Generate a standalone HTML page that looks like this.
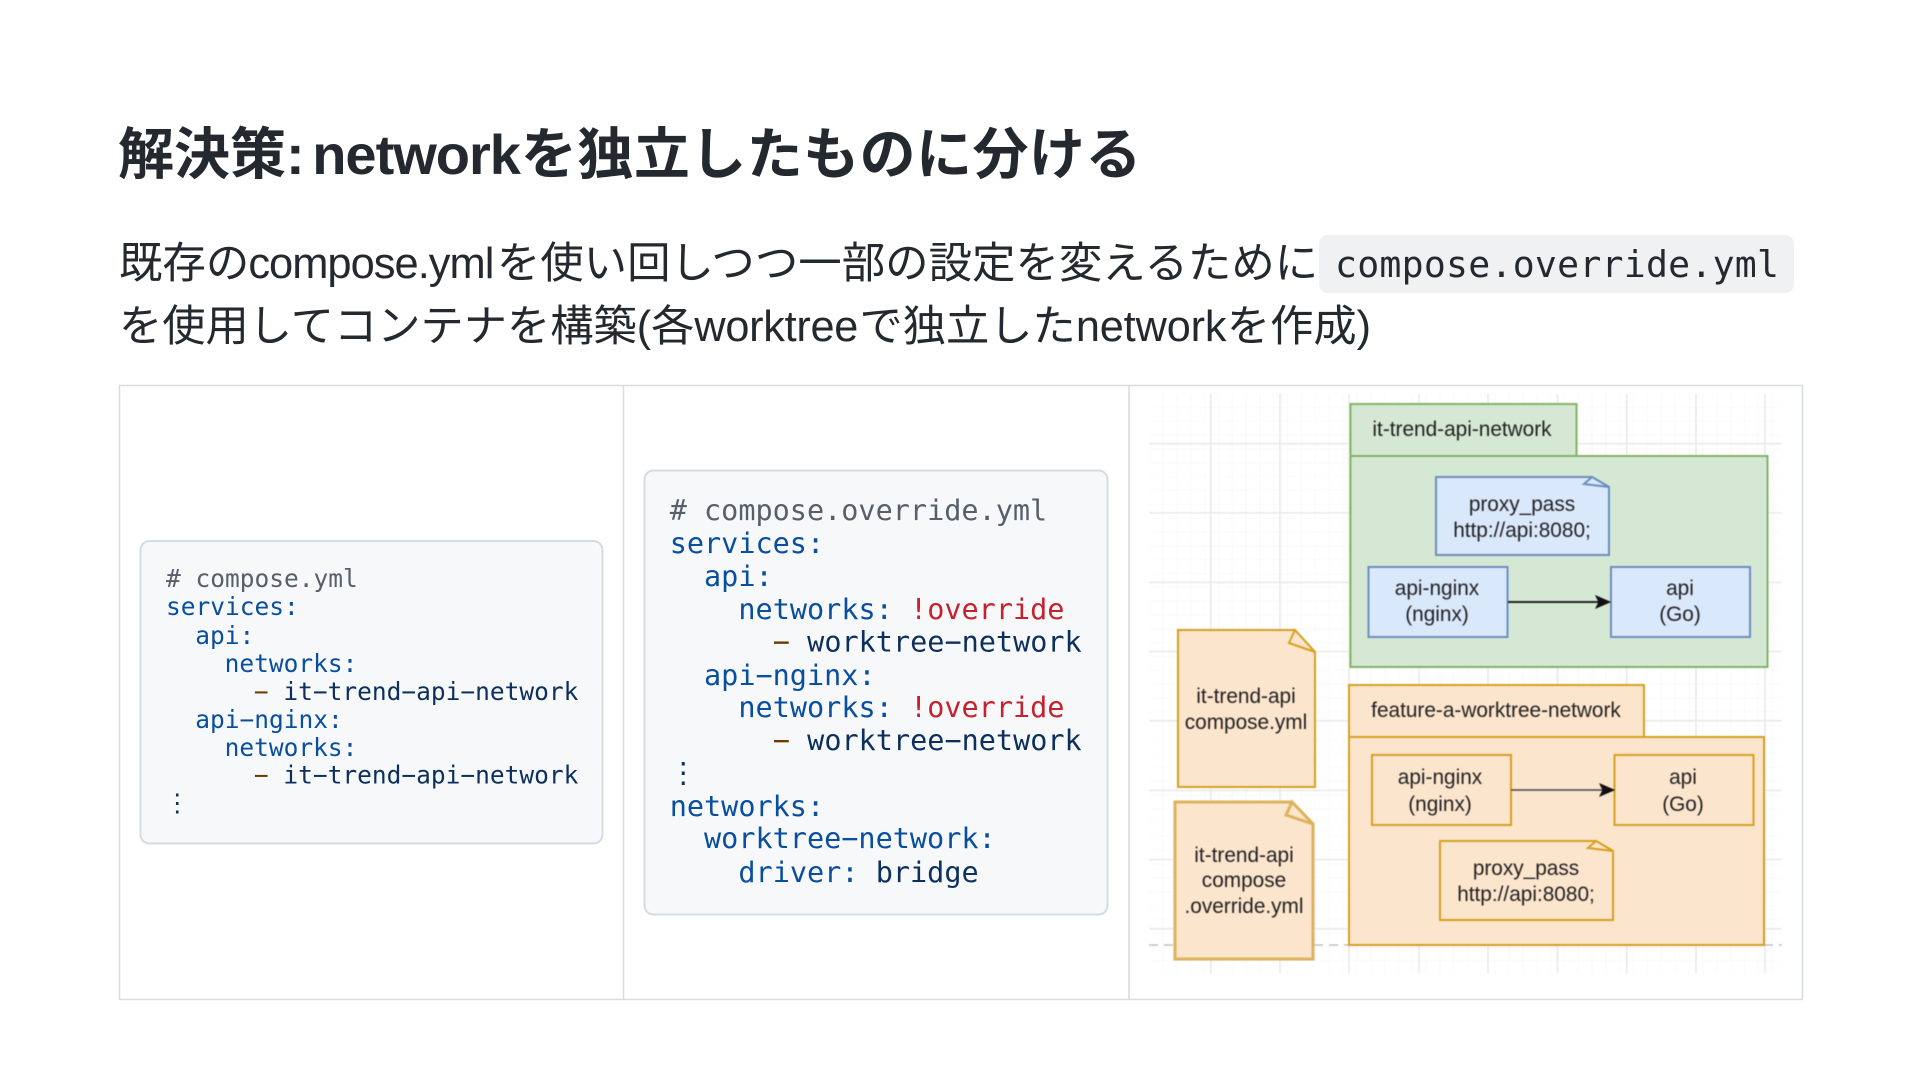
<!DOCTYPE html>
<html lang="ja"><head><meta charset="utf-8"><title>解決策</title>
<style>
html,body{margin:0;padding:0;background:#fff;width:1920px;height:1080px;overflow:hidden}
svg{display:block}
.sans{font-family:"Liberation Sans","Noto Sans CJK JP",sans-serif}
.mono{font-family:"DejaVu Sans Mono","Liberation Mono",monospace}
.k{fill:#0a4e9f}.c{fill:#57606a}.d{fill:#6b3a00}.v{fill:#0d2f5e}.r{fill:#c5222e}
.lbl{font-family:"Liberation Sans",sans-serif;font-size:20.8px;fill:#222;text-anchor:middle}
</style></head><body>
<svg width="1920" height="1080" viewBox="0 0 1920 1080" xmlns="http://www.w3.org/2000/svg">
<text class="sans" x="118" y="174" font-size="56" font-weight="700" fill="#24292f">解決策:<tspan dx="-7" letter-spacing="-1"> network</tspan><tspan dx="1" letter-spacing="0.45">を独立したものに分ける</tspan></text>
<text class="sans" x="119" y="278" font-size="43.45" fill="#24292f">既存の<tspan letter-spacing="-0.98" dx="-1">compose.yml</tspan><tspan dx="3.4">を使い回しつつ一部の設定を変えるために</tspan></text>
<rect x="1319" y="235" width="475" height="58" rx="9" fill="#eff1f3"/>
<text class="mono" x="1335" y="277" font-size="36.5" fill="#24292f" textLength="444">compose.override.yml</text>
<text class="sans" x="119" y="341" font-size="43.25" fill="#24292f">を使用してコンテナを構築(各<tspan letter-spacing="-0.27">worktree</tspan><tspan dx="1.5">で独立した</tspan><tspan letter-spacing="-0.12">network</tspan><tspan dx="0.5">を作成)</tspan></text>

<rect x="119.5" y="385.5" width="1683" height="614" fill="#fff" stroke="#d5dce2" stroke-width="1.5"/>
<line x1="623.5" y1="385" x2="623.5" y2="999" stroke="#d5dce2" stroke-width="1.5"/>
<line x1="1129" y1="385" x2="1129" y2="999" stroke="#d5dce2" stroke-width="1.5"/>

<rect x="140.5" y="541" width="462" height="302.5" rx="9" fill="#f6f8fa" stroke="#d5dce2" stroke-width="2"/>
<g class="mono" font-size="24.5">
<text x="166" y="587" class="c"># compose.yml</text>
<text x="166" y="615" class="k">services:</text>
<text x="195.3" y="644" class="k">api:</text>
<text x="224.6" y="672" class="k">networks:</text>
<text x="253.9" y="700"><tspan class="d">−</tspan><tspan class="v" dx="14.75">it−trend−api−network</tspan></text>
<text x="195.3" y="728" class="k">api−nginx:</text>
<text x="224.6" y="756" class="k">networks:</text>
<text x="253.9" y="783.5"><tspan class="d">−</tspan><tspan class="v" dx="14.75">it−trend−api−network</tspan></text>
<text x="165" y="811" class="v">⋮</text>
</g>

<rect x="644.5" y="470.5" width="463" height="444" rx="9" fill="#f6f8fa" stroke="#d5dce2" stroke-width="2"/>
<g class="mono" font-size="28.5">
<text x="669.7" y="520" class="c"># compose.override.yml</text>
<text x="669.7" y="553" class="k">services:</text>
<text x="704" y="586" class="k">api:</text>
<text x="738.4" y="619"><tspan class="k">networks:</tspan><tspan class="r" dx="17.2">!override</tspan></text>
<text x="772.8" y="651.5"><tspan class="d">−</tspan><tspan class="v" dx="17.2">worktree−network</tspan></text>
<text x="704" y="685" class="k">api−nginx:</text>
<text x="738.4" y="717"><tspan class="k">networks:</tspan><tspan class="r" dx="17.2">!override</tspan></text>
<text x="772.8" y="750"><tspan class="d">−</tspan><tspan class="v" dx="17.2">worktree−network</tspan></text>
<text x="669" y="782" class="v">⋮</text>
<text x="669.7" y="816" class="k">networks:</text>
<text x="704" y="848" class="k">worktree−network:</text>
<text x="738.4" y="882"><tspan class="k">driver:</tspan><tspan class="v" dx="17.2">bridge</tspan></text>
</g>

<defs>
<pattern id="gridMinor" x="1149.5" y="393.8" width="13.84" height="13.84" patternUnits="userSpaceOnUse">
<path d="M13.84 0V13.84H0" fill="none" stroke="#f3f3f3" stroke-width="1"/>
</pattern>
</defs>
<g style="filter:blur(0.45px)">
<rect x="1149.5" y="393.8" width="632" height="579" fill="url(#gridMinor)"/>
<g stroke="#e6e6e6" stroke-width="1.4">
<line x1="1210.8" y1="394" x2="1210.8" y2="973"/><line x1="1280" y1="394" x2="1280" y2="973"/>
<line x1="1349" y1="394" x2="1349" y2="973"/><line x1="1419" y1="394" x2="1419" y2="973"/>
<line x1="1488" y1="394" x2="1488" y2="973"/><line x1="1557.5" y1="394" x2="1557.5" y2="973"/>
<line x1="1626.7" y1="394" x2="1626.7" y2="973"/><line x1="1696" y1="394" x2="1696" y2="973"/>
<line x1="1765" y1="394" x2="1765" y2="973"/>
<line x1="1149" y1="443.7" x2="1782" y2="443.7"/><line x1="1149" y1="512.9" x2="1782" y2="512.9"/>
<line x1="1149" y1="582.4" x2="1782" y2="582.4"/><line x1="1149" y1="651.6" x2="1782" y2="651.6"/>
<line x1="1149" y1="720.8" x2="1782" y2="720.8"/><line x1="1149" y1="790.4" x2="1782" y2="790.4"/>
<line x1="1149" y1="859.6" x2="1782" y2="859.6"/><line x1="1149" y1="928.8" x2="1782" y2="928.8"/>
</g>
<line x1="1149" y1="945" x2="1782" y2="945" stroke="#b5b5b5" stroke-width="1.2" stroke-dasharray="9 6"/>

<g fill="#d5e8d4" stroke="#82b366" stroke-width="2">
<rect x="1350.5" y="404" width="226" height="52"/>
<rect x="1350.5" y="456" width="417" height="211"/>
</g>
<g fill="#dae8fc" stroke="#6c8ebf" stroke-width="2">
<path d="M1436 477H1592L1609 487V555H1436Z"/>
<path d="M1592 477L1609 487L1584 484Z" fill="#dae8fc"/>
<rect x="1368.5" y="567" width="139" height="70"/>
<rect x="1611" y="567" width="139" height="70"/>
</g>
<line x1="1508" y1="602" x2="1600" y2="602" stroke="#222" stroke-width="2"/>
<path d="M1596 596L1610 602L1596 608L1599 602Z" fill="#111" stroke="#111"/>

<g fill="#fce5cd" stroke="#d6a020" stroke-width="2">
<rect x="1349" y="685" width="295" height="52"/>
<rect x="1349" y="737" width="415" height="208"/>
<rect x="1372" y="755" width="139" height="70"/>
<rect x="1614.5" y="755" width="139" height="70"/>
<path d="M1440 841H1596L1613 851V920H1440Z"/>
<path d="M1596 841L1613 851L1588 848Z"/>
<path d="M1178 630H1295L1315 652V787H1178Z"/>
<path d="M1295 630L1315 652L1289 643Z"/>
</g>
<g fill="#fce5cd" stroke="#dcb35c" stroke-width="3">
<path d="M1175 802H1292L1313 824V959H1175Z"/>
<path d="M1292 802L1313 824L1286 815Z"/>
</g>
<line x1="1511" y1="790" x2="1604" y2="790" stroke="#444" stroke-width="1.4"/>
<path d="M1600 784L1614 790L1600 796L1603 790Z" fill="#111" stroke="#111"/>

<text class="lbl" x="1462" y="436">it-trend-api-network</text>
<text class="lbl" x="1522" y="511">proxy_pass</text>
<text class="lbl" x="1522" y="537">http://api:8080;</text>
<text class="lbl" x="1437" y="595">api-nginx</text>
<text class="lbl" x="1437" y="621">(nginx)</text>
<text class="lbl" x="1680" y="595">api</text>
<text class="lbl" x="1680" y="621">(Go)</text>
<text class="lbl" x="1246" y="703">it-trend-api</text>
<text class="lbl" x="1246" y="729">compose.yml</text>
<text class="lbl" x="1244" y="862">it-trend-api</text>
<text class="lbl" x="1244" y="887">compose</text>
<text class="lbl" x="1244" y="913">.override.yml</text>
<text class="lbl" x="1496" y="717">feature-a-worktree-network</text>
<text class="lbl" x="1440" y="784">api-nginx</text>
<text class="lbl" x="1440" y="811">(nginx)</text>
<text class="lbl" x="1683" y="784">api</text>
<text class="lbl" x="1683" y="811">(Go)</text>
<text class="lbl" x="1526" y="875">proxy_pass</text>
<text class="lbl" x="1526" y="901">http://api:8080;</text>
</g>
</svg>
</body></html>
